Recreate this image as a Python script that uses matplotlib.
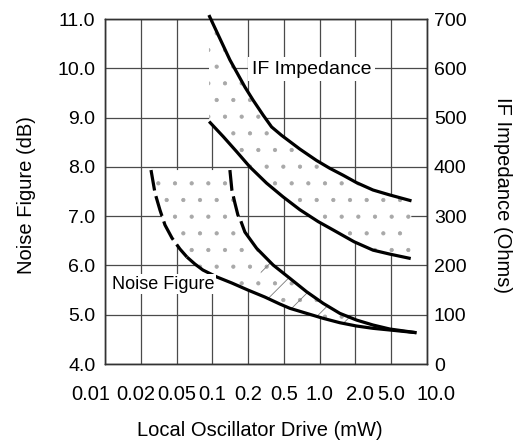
import numpy as np
import matplotlib
matplotlib.use("Agg")
import matplotlib.pyplot as plt
from matplotlib.ticker import FixedLocator, NullLocator, FixedFormatter, FormatStrFormatter
from matplotlib.transforms import ScaledTranslation

plt.rcParams['font.family'] = ['Liberation Sans', 'DejaVu Sans']
plt.rcParams['hatch.linewidth'] = 0.6

# ---------------- data ----------------
drive_ticks = [0.01, 0.02, 0.05, 0.1, 0.2, 0.5, 1.0, 2.0, 5.0, 10.0]
drive_labels = ["0.01", "0.02", "0.05", "0.1", "0.2", "0.5", "1.0", "2.0", "5.0", "10.0"]
nf_ticks = [4.0, 5.0, 6.0, 7.0, 8.0, 9.0, 10.0, 11.0]
if_ticks = [0, 100, 200, 300, 400, 500, 600, 700]

# IF impedance (Ohms) vs LO drive (mW)
if_hi_x = [0.0936, 0.1406, 0.188, 0.228, 0.294, 0.365, 0.471, 0.682, 0.941,
           1.219, 1.576, 2.057, 3.14, 4.82, 7.41]
if_hi_y = [708, 617, 562, 535, 505, 481, 464, 436, 413,
           397, 383, 368, 353, 343, 331]
if_lo_x = [0.094, 0.124, 0.16, 0.209, 0.321, 0.491, 0.682, 0.971, 1.299,
           1.951, 3.14, 4.82, 7.3]
if_lo_y = [492, 461, 431, 400, 367, 339, 313, 289, 272,
           248, 231, 223, 214]

# Noise figure (dB) vs LO drive (mW)
nf_lo_x = [0.0260, 0.0288, 0.0327, 0.0372, 0.0445, 0.0534, 0.0612, 0.0714,
           0.0833, 0.1093, 0.1461, 0.1992, 0.307, 0.451, 0.562, 0.776,
           1.07, 1.478, 2.057, 3.14, 4.82, 8.16]
nf_lo_y = [7.935, 7.469, 7.124, 6.82, 6.556, 6.333, 6.17, 6.028,
           5.907, 5.765, 5.643, 5.501, 5.359, 5.217, 5.13, 5.028,
           4.927, 4.838, 4.771, 4.724, 4.69, 4.635]
nf_hi_x = [0.1406, 0.1461, 0.1549, 0.1642, 0.174, 0.188, 0.249, 0.380,
           0.562, 0.776, 1.07, 1.478, 2.057, 3.14, 4.82, 8.16]
nf_hi_y = [7.935, 7.529, 7.266, 7.022, 6.897, 6.677, 6.347, 6.008,
           5.738, 5.467, 5.231, 5.028, 4.892, 4.791, 4.71, 4.635]
nf_lo_dash_end = 0.0612   # dashed (extrapolated) part of the curves
nf_hi_dash_end = 0.174
nf_hatch_start = 0.2      # start of line-hatched part of the NF band

# ---------------- scale: evenly spaced 1-2-5 steps ----------------
_lt = np.log10(np.array(drive_ticks))
_ix = np.arange(len(drive_ticks), dtype=float)


def fwd(x):
    x = np.asarray(x, dtype=float)
    return np.interp(np.log10(np.clip(x, 1e-9, None)), _lt, _ix)


def inv(i):
    i = np.asarray(i, dtype=float)
    return 10 ** np.interp(i, _ix, _lt)


fig = plt.figure(figsize=(5.2, 4.45), dpi=100)
ax = fig.add_axes([0.2019, 0.182, 0.6192, 0.7753])
ax.set_xscale('function', functions=(fwd, inv))
ax.set_xlim(0.01, 10.0)
ax.set_ylim(4.0, 11.0)
ax.xaxis.set_major_locator(FixedLocator(drive_ticks))
ax.xaxis.set_major_formatter(FixedFormatter(drive_labels))
ax.xaxis.set_minor_locator(NullLocator())
ax.yaxis.set_major_locator(FixedLocator(nf_ticks))
ax.yaxis.set_major_formatter(FormatStrFormatter('%.1f'))
ax.yaxis.set_minor_locator(NullLocator())
ax.set_axisbelow(True)
ax.grid(True, color='#4a4a4a', lw=0.9)
ax.tick_params(axis='x', length=0, pad=15, labelsize=14.5)
ax.tick_params(axis='y', length=0, pad=7, labelsize=14)
for s in ax.spines.values():
    s.set_color('#333333')
    s.set_linewidth(1.0)

# nudge the crowded end labels outward like the original
xt = ax.get_xticklabels()
xt[0].set_transform(xt[0].get_transform() + ScaledTranslation(-0.14, 0, fig.dpi_scale_trans))
xt[1].set_transform(xt[1].get_transform() + ScaledTranslation(-0.05, 0, fig.dpi_scale_trans))
xt[-3].set_transform(xt[-3].get_transform() + ScaledTranslation(0.05, 0, fig.dpi_scale_trans))
xt[-1].set_transform(xt[-1].get_transform() + ScaledTranslation(0.09, 0, fig.dpi_scale_trans))

ink = 'black'
band_dot = '#a8a8a8'

# Noise figure band
nfx = np.array(nf_lo_x + nf_hi_x[::-1])
nfy = np.array(nf_lo_y + nf_hi_y[::-1])
ax.fill(nfx, nfy, facecolor='white', edgecolor=band_dot, lw=0, hatch='.', zorder=1)
lo_m = np.array(nf_lo_x) >= nf_hatch_start
hi_m = np.array(nf_hi_x) >= nf_hatch_start
hx = np.concatenate([np.array(nf_lo_x)[lo_m], np.array(nf_hi_x)[hi_m][::-1]])
hy = np.concatenate([np.array(nf_lo_y)[lo_m], np.array(nf_hi_y)[hi_m][::-1]])
ax.fill(hx, hy, facecolor='none', edgecolor='#7a7a7a', lw=0, hatch='/', zorder=1.1)


def split_plot(axis, xs, ys, xcut):
    xs = np.array(xs)
    ys = np.array(ys)
    k = int(np.searchsorted(xs, xcut)) + 1
    axis.plot(xs[:k], ys[:k], color=ink, lw=2.3, dashes=(6.5, 1.8), zorder=3)
    axis.plot(xs[k - 1:], ys[k - 1:], color=ink, lw=2.3, zorder=3,
              solid_capstyle='butt', solid_joinstyle='round')


split_plot(ax, nf_lo_x, nf_lo_y, nf_lo_dash_end)
split_plot(ax, nf_hi_x, nf_hi_y, nf_hi_dash_end)

ax.text(0.0353, 5.62, 'Noise Figure', fontsize=13, ha='center', va='center', zorder=4,
        bbox=dict(facecolor='white', edgecolor='none', pad=1.0))

ax.set_xlabel('Local Oscillator Drive (mW)', fontsize=14.5, va='center')
ax.xaxis.set_label_coords(0.48, -0.194)
ax.set_ylabel('Noise Figure (dB)', fontsize=14.5, va='center')
ax.yaxis.set_label_coords(-0.245, 0.49)

# IF impedance on the right axis
ax2 = ax.twinx()
ax2.set_ylim(0, 700)
ax2.yaxis.set_major_locator(FixedLocator(if_ticks))
ax2.yaxis.set_minor_locator(NullLocator())
ax2.tick_params(axis='y', length=0, pad=5, labelsize=14)
for s in ax2.spines.values():
    s.set_color('#333333')
    s.set_linewidth(1.0)

ifx = np.array(if_hi_x + if_lo_x[::-1])
ify = np.array(if_hi_y + if_lo_y[::-1])
ax2.fill(ifx, ify, facecolor='white', edgecolor=band_dot, lw=0, hatch='.', zorder=1)
ax2.plot(if_hi_x, if_hi_y, color=ink, lw=2.3, zorder=3, clip_on=False,
         solid_capstyle='butt', solid_joinstyle='round')
ax2.plot(if_lo_x, if_lo_y, color=ink, lw=2.3, zorder=3,
         solid_capstyle='butt', solid_joinstyle='round')
ax2.text(0.85, 598, 'IF Impedance', fontsize=14, ha='center', va='center', zorder=4,
         bbox=dict(facecolor='white', edgecolor='none', pad=2.5))

ax2.set_ylabel('IF Impedance (Ohms)', fontsize=14.5, rotation=270, va='center', ha='center')
ax2.yaxis.set_label_coords(1.236, 0.49)

fig.savefig('out.png', dpi=100)
